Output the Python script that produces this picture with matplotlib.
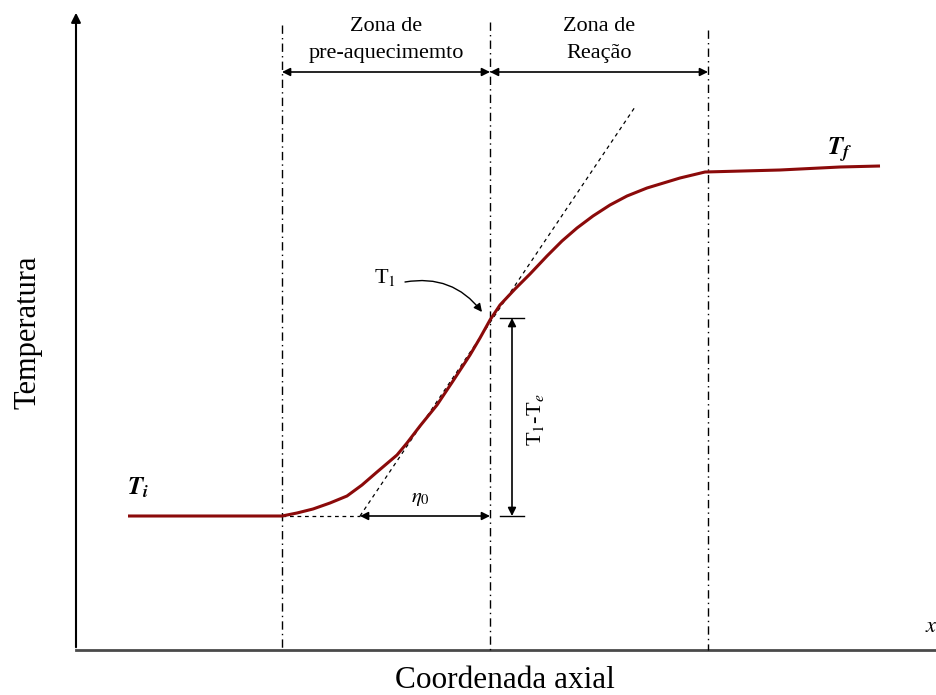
import matplotlib.pyplot as plt

plt.rcParams['font.family'] = ['Liberation Serif', 'DejaVu Serif']
plt.rcParams['mathtext.fontset'] = 'stix'

# Perfil de temperatura (coordenadas do desenho, y cresce para baixo)
curva_x = [128, 282, 297, 313, 330, 347, 362, 377, 397, 407, 420, 437, 453,
           470, 480, 490, 500, 515, 530, 547, 562, 577, 593, 610, 627, 647,
           680, 705, 780, 840, 880]
curva_y = [516, 516, 513, 509, 503, 496, 485, 472, 455, 443, 426, 405, 381,
           355, 338, 320, 305, 289, 274, 256, 241, 228, 216, 205, 196, 188,
           178, 172, 170, 167, 166]

# Limites das zonas
zonas_x = [282, 490, 708]
zonas_topo = [25, 22, 30]
nomes_zonas = ["Zona de\npre-aquecimemto", "Zona de\nReação"]

# Tangente no ponto T1
tangente_x = [360, 635]
tangente_y = [516, 107]

T_i, T_1 = 516, 318
eixo_y0 = 650

fig = plt.figure(figsize=(9.37, 6.95), dpi=100)
ax = fig.add_axes([0, 0, 1, 1])
ax.set_xlim(0, 937)
ax.set_ylim(695, 0)
ax.axis('off')

# Eixos
ax.plot([76, 937], [eixo_y0, eixo_y0], color='#4a4a4a', lw=2)
ax.annotate('', xy=(76, 10), xytext=(76, eixo_y0),
            arrowprops=dict(arrowstyle='-|>', color='black', lw=1.5,
                            mutation_scale=14))

# Linhas das zonas
for x, topo in zip(zonas_x, zonas_topo):
    ax.plot([x, x], [topo, eixo_y0], color='black', lw=1, ls=(0, (6, 3, 1, 3)))

# Setas das zonas
y_seta = 72
for (a, b), nome in zip(zip(zonas_x[:-1], zonas_x[1:]), nomes_zonas):
    ax.annotate('', xy=(a, y_seta), xytext=(b, y_seta),
                arrowprops=dict(arrowstyle='<|-|>', color='black', lw=1.2,
                                mutation_scale=12, shrinkA=0, shrinkB=0))
    ax.text((a + b) / 2, 40, nome, ha='center', va='center', fontsize=16,
            linespacing=1.55)

# Tangente e linha de base
ax.plot(tangente_x, tangente_y, color='black', lw=0.9, ls=(0, (3, 3)))
ax.plot([282, tangente_x[0]], [T_i, T_i], color='black', lw=0.9, ls=(0, (3, 3)))

# Curva de temperatura
ax.plot(curva_x, curva_y, color='#8b0a0a', lw=2.2, solid_capstyle='butt',
        solid_joinstyle='round')

# eta_0
ax.annotate('', xy=(tangente_x[0], T_i), xytext=(490, T_i),
            arrowprops=dict(arrowstyle='<|-|>', color='black', lw=1.2,
                            mutation_scale=12, shrinkA=0, shrinkB=0))
ax.text(420, 498, r'$\eta_{0}$', ha='center', va='center', fontsize=15)

# T1 - Te
ax.plot([500, 524], [T_1, T_1], color='black', lw=1)
ax.plot([500, 524], [T_i, T_i], color='black', lw=1)
ax.annotate('', xy=(512, T_1), xytext=(512, T_i),
            arrowprops=dict(arrowstyle='<|-|>', color='black', lw=1.2,
                            mutation_scale=12, shrinkA=0, shrinkB=0))
ax.text(536, 420, r'T$_1$-T$_e$', rotation=90, ha='center', va='center', fontsize=16)

# Rótulo T1
ax.text(385, 277, r'T$_1$', ha='center', va='center', fontsize=16)
ax.annotate('', xy=(482, 312), xytext=(405, 282),
            arrowprops=dict(arrowstyle='-|>', color='black', lw=1,
                            mutation_scale=12, shrinkA=0, shrinkB=0,
                            connectionstyle='arc3,rad=-0.3'))

# Ti, Tf, x
ax.text(138, 488, r'$\mathbfit{T_i}$', ha='center', va='center', fontsize=18)
ax.text(840, 150, r'$\mathbfit{T_f}$', ha='center', va='center', fontsize=18)
ax.text(925, 628, r'$x$', ha='left', va='center', fontsize=16)

# Títulos dos eixos
ax.text(505, 680, 'Coordenada axial', ha='center', va='center', fontsize=22.5)
ax.text(28, 332, 'Temperatura', ha='center', va='center', rotation=90, fontsize=22)

fig.savefig('out.png', dpi=100)
